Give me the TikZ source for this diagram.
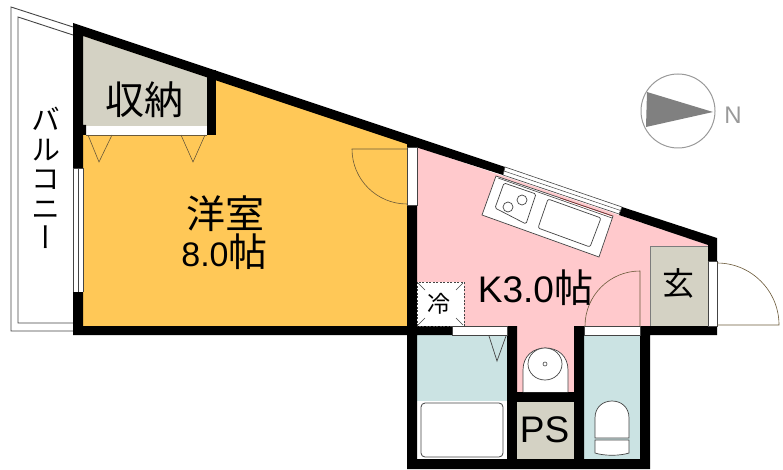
\documentclass[tikz,border=0pt]{standalone}
\usepackage{fontspec}
\setmainfont{Liberation Sans}
\newfontfamily\cjk{Noto Sans CJK JP}
\newfontfamily\cjkv[RawFeature=+vert]{Noto Sans CJK JP}
\definecolor{orangeroom}{HTML}{FFC857}
\definecolor{pinkroom}{HTML}{FFC9CC}
\definecolor{stonefill}{HTML}{D4D2C4}
\definecolor{bluefill}{HTML}{CBE3E3}
\definecolor{doorline}{HTML}{6B5A3A}
\definecolor{fixture}{HTML}{444444}
\definecolor{compassgrey}{HTML}{808080}
\definecolor{ringgrey}{HTML}{999999}
\tikzset{
  wall/.style={fill=black,draw=none},
  gap/.style={fill=white,draw=fixture,line width=.5pt},
  leaf/.style={draw=doorline,line width=.6pt},
  fix/.style={draw=fixture,fill=white,line width=.8pt},
  lbl/.style={inner sep=0pt,text=black,align=center},
}
\begin{document}
\begin{tikzpicture}[x=1pt,y=-1pt]
\useasboundingbox (0,0) rectangle (783,470);
% room fills
\fill[orangeroom] (83,36) -- (407,143) -- (407,326) -- (83,326) -- cycle;
\fill[pinkroom] (417,147) -- (708,245) -- (708,326) -- (417,326) -- cycle;
\fill[pinkroom] (517,326) rectangle (574,392);
\fill[stonefill] (83,36) -- (207,77) -- (207,126) -- (83,126) -- cycle;
\fill[white] (86,126) rectangle (207,135);
\draw[doorline,line width=.5pt] (86,135) -- (207,135);
\draw[fill=stonefill,draw=fixture!70,line width=.5pt] (650,326) -- (650,246) -- (708,246) -- (708,326);
\fill[bluefill] (417,335) rectangle (507,401);
\fill[white] (417,401) rectangle (507,459);
\fill[bluefill] (584,335) rectangle (640,459);
% balcony
\draw[fixture,line width=.9pt] (73,27) -- (11,7) -- (11,331) -- (73,331);
\draw[fixture,line width=.9pt] (73,35) -- (18,17) -- (18,323) -- (73,323);
% balcony window
\fill[white] (73,168) rectangle (83,292);
\draw[fixture,line width=.6pt] (73,168) -- (73,292) (78,168) -- (78,292) (83,168) -- (83,292) (73,168) -- (83,168);
% walls
\fill[wall] (73,23) -- (505,167) -- (503,175) -- (417,147.5) -- (83,36) -- (83,125) -- (86,125) -- (86,135) -- (83,135) -- (83,168) -- (73,168) -- cycle;
\fill[wall] (207,70) -- (216,70) -- (216,135) -- (207,135) -- cycle;
\fill[wall] (73,292) -- (83,292) -- (83,326) -- (407,326) -- (407,205) -- (417,205) -- (417,326) -- (452,326) -- (452,335) -- (417,335) -- (417,459) -- (507,459) -- (507,326) -- (517,326) -- (517,392) -- (574,392) -- (574,326) -- (584,326) -- (584,459) -- (640,459) -- (640,326) -- (717,326) -- (717,335) -- (650,335) -- (650,469) -- (407,469) -- (407,335) -- (73,335) -- cycle;
\fill[wall] (622,207) -- (717,238) -- (717,261) -- (708,261) -- (708,245) -- (619,215) -- cycle;
\fill[stonefill] (517,402) rectangle (574,459);
% door gaps
\draw[gap] (407,147) rectangle (417,205);
\fill[wall] (407,141) -- (417,145) -- (417,147) -- (407,147) -- cycle;
\draw[gap] (452,326) rectangle (507,335);
\draw[gap] (584,326) rectangle (640,335);
\draw[gap] (708,261) rectangle (717,326);
% door leaves
\draw[leaf] (407,149) -- (352,149) arc[start angle=180,end angle=90,radius=55];
\draw[leaf] (585,326) arc[start angle=180,end angle=270,radius=55] -- (640,326);
\draw[leaf] (717,325) -- (779,325) arc[start angle=0,end angle=-90,radius=62];
\draw[leaf] (88,135) -- (99,162) -- (112,135);
\draw[leaf] (181,135) -- (193,162) -- (205,135);
\draw[fixture,line width=.7pt] (489,336) -- (497,361) -- (506,336);
% kitchen window
\draw[fill=white,draw=fixture,line width=.6pt] (505,167) -- (622,207) -- (619,214) -- (503,175) -- cycle;
\draw[fixture,line width=.5pt] (504,171) -- (620.5,210.5);
% kitchen counter
\draw[fix,line width=.7pt] (496,176) -- (613,216) -- (599,257) -- (482,215) -- cycle;
\draw[fixture,line width=.6pt] (498,178) -- (612,218);
\draw[red!50!fixture,line width=.4pt] (560,198) -- (612,216);
\draw[fix,rounded corners=1.5pt,line width=.7pt] (504,183) -- (536,194) -- (526,224) -- (495,208) -- cycle;
\draw[fix,line width=.7pt] (522,200) circle[radius=5];
\draw[fix,line width=.7pt] (508,207) circle[radius=5];
\draw[fix,rounded corners=2pt,line width=.7pt] (548,199) -- (601,218) -- (590,247) -- (538,228) -- cycle;
% fridge
\draw[fill=white,draw=fixture,dashed,dash pattern=on 2pt off 1.5pt,line width=.6pt] (417,282) rectangle (464,326);
\draw[fixture,line width=.5pt] (418,283) -- (425,290) (463,283) -- (456,290) (418,325) -- (425,318) (463,325) -- (456,318);
% wash basin
\draw[fix,line width=.7pt] (523,392) -- (523,370) .. controls (523,356) and (533,348) .. (545.5,348) .. controls (558,348) and (568,356) .. (568,370) -- (568,392);
\draw[fix,line width=.7pt] (545,364) ellipse[x radius=17,y radius=16];
\draw[fix,line width=.6pt] (545,364) circle[radius=2];
% bath tub
\draw[fix,rounded corners=4pt,line width=.8pt] (421,403) rectangle (503,457);
% toilet
\draw[fix,line width=.7pt] (595,438) -- (595,418) .. controls (595,407) and (603,401) .. (612,401) .. controls (621,401) and (629,407) .. (629,418) -- (629,438) -- cycle;
\draw[fix,line width=.7pt] (595,440) -- (629,440) -- (629,453) .. controls (620,456) and (604,456) .. (595,453) -- cycle;
% compass
\draw[ringgrey,line width=1pt] (678,111) circle[radius=37];
\fill[compassgrey] (647,92) -- (713,112) -- (646,127) -- cycle;
\node[lbl,text=ringgrey] (north) at (733,115) {\fontsize{24}{24}\selectfont N};
% labels
\node[lbl] (storage) at (144.5,100) {\cjk\fontsize{39}{39}\selectfont 収納};
\node[lbl] (western) at (225,214) {\cjk\fontsize{39}{39}\selectfont 洋室};
\node[lbl] (westsize) at (224.5,252) {\fontsize{34}{34}\selectfont 8.0{\cjk\fontsize{39}{39}\selectfont 帖}};
\node[lbl] (kitchen) at (535.5,288) {\fontsize{37}{37}\selectfont K3.0{\cjk\fontsize{39}{39}\selectfont 帖}};
\node[lbl] (fridge) at (439,304) {\cjk\fontsize{23}{23}\selectfont 冷};
\node[lbl] (entry) at (678,283) {\cjk\fontsize{32}{32}\selectfont 玄};
\node[lbl] (ps) at (544.5,430) {\fontsize{37}{37}\selectfont PS};
\node[lbl,font=\cjkv\fontsize{29}{29.5}\selectfont] (balcony) at (46,178) {バ\\ル\\コ\\ニ\\ー};
\end{tikzpicture}
\end{document}
